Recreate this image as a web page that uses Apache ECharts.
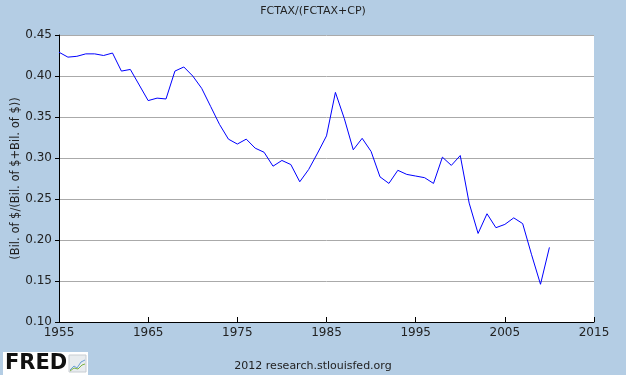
<!DOCTYPE html>
<html>
<head>
<meta charset="utf-8">
<script src="https://cdn.jsdelivr.net/npm/echarts@6/dist/echarts.min.js"></script>
<style>html,body{margin:0;padding:0;background:#b4cde4;}#c{width:626px;height:375px;}</style>
</head>
<body>
<div id="c"></div>
<script>
var years = [];
for (var y = 1955; y <= 2010; y++) years.push(y);
var values = [
  0.429, 0.423, 0.424, 0.427, 0.427, 0.425, 0.428, 0.406, 0.408, 0.389,
  0.370, 0.373, 0.372, 0.406, 0.411, 0.400, 0.385, 0.363, 0.341, 0.323,
  0.317, 0.323, 0.312, 0.307, 0.290, 0.297, 0.292, 0.271, 0.286, 0.306,
  0.327, 0.380, 0.348, 0.310, 0.324, 0.308, 0.277, 0.269, 0.285, 0.280,
  0.278, 0.276, 0.269, 0.301, 0.291, 0.303, 0.245, 0.208, 0.232, 0.215,
  0.219, 0.227, 0.220, 0.182, 0.146, 0.191
];
var yTicks = [0.10, 0.15, 0.20, 0.25, 0.30, 0.35, 0.40, 0.45];
var xTicks = [1955, 1965, 1975, 1985, 1995, 2005, 2015];
var titleText = 'FCTAX/(FCTAX+CP)';
var yName = '(Bil. of $/(Bil. of $+Bil. of $))';
var footerText = '2012 research.stlouisfed.org';

var data = years.map(function (yr, i) { return [yr, values[i]]; });
var font = 'Verdana, "DejaVu Sans", sans-serif';
var chart = echarts.init(document.getElementById('c'));
chart.setOption({
  backgroundColor: '#b4cde4',
  animation: false,
  title: {
    text: titleText, left: 'center', top: 1,
    textStyle: { fontFamily: font, fontSize: 11, fontWeight: 'normal', color: '#222' }
  },
  grid: { left: 59, right: 32, top: 35, bottom: 53, show: true, backgroundColor: '#ffffff', borderWidth: 0,
    containLabel: false, outerBoundsMode: 'none' },
  xAxis: {
    type: 'value', min: 1955, max: 2015, interval: 10,
    axisLine: { show: true, lineStyle: { color: '#000', width: 1 } },
    axisTick: { show: true, inside: true, length: 5, lineStyle: { color: '#000' } },
    axisLabel: { fontFamily: font, fontSize: 12, color: '#222', margin: 5,
      formatter: function (v) { return xTicks.indexOf(v) >= 0 ? String(v) : ''; } },
    splitLine: { show: false }
  },
  yAxis: {
    type: 'value', min: 0.10, max: 0.45, interval: 0.05,
    name: yName, nameLocation: 'middle', nameGap: 37, nameRotate: 90, nameMoveOverlap: false,
    nameTextStyle: { fontFamily: font, fontSize: 11.5, color: '#222' },
    axisLine: { show: true, lineStyle: { color: '#000', width: 1 } },
    axisTick: { show: true, inside: false, length: 4, lineStyle: { color: '#000' } },
    axisLabel: { fontFamily: font, fontSize: 12, color: '#222', margin: 7,
      formatter: function (v) {
        for (var i = 0; i < yTicks.length; i++) if (Math.abs(yTicks[i] - v) < 1e-6) return yTicks[i].toFixed(2);
        return '';
      } },
    splitLine: { show: true, lineStyle: { color: '#aaaaaa', width: 1 } }
  },
  series: [{
    type: 'line', data: data, showSymbol: false, symbol: 'none',
    lineStyle: { color: '#0000ff', width: 1 }, z: 5
  }],
  graphic: [
    { type: 'text', left: 'center', top: 361,
      style: { text: footerText, font: '11px ' + font, fill: '#222' } },
    { type: 'rect', shape: { x: 3, y: 352, width: 85, height: 23 }, style: { fill: '#ffffff' } },
    { type: 'text', x: 5, y: 353,
      style: { text: 'FRED', font: 'bold 21px "DejaVu Sans", Verdana, sans-serif', fill: '#111' } },
    { type: 'rect', shape: { x: 69, y: 355, width: 17, height: 17 }, style: { fill: '#e8ecef', stroke: '#c8cdd2', lineWidth: 1 } },
    { type: 'polyline', shape: { points: [[70, 370], [74, 366], [77, 368], [81, 362], [85, 360]] }, style: { stroke: '#6a9fd8', lineWidth: 1, fill: null } },
    { type: 'polyline', shape: { points: [[70, 371], [74, 368], [78, 369], [82, 365], [85, 364]] }, style: { stroke: '#7cb342', lineWidth: 1, fill: null } }
  ]
});
</script>
</body>
</html>
